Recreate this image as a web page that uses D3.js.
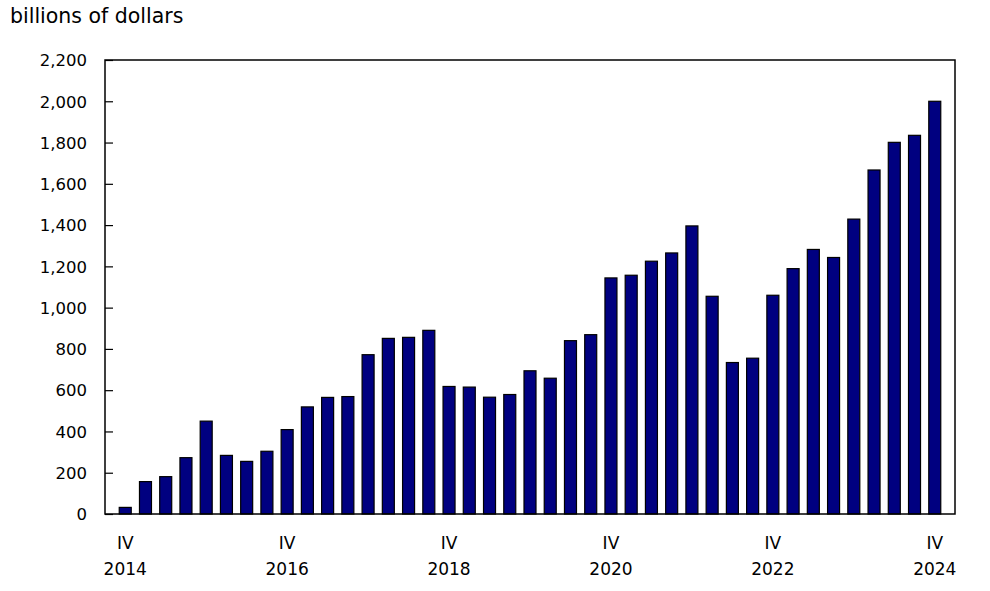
<!DOCTYPE html>
<html>
<head>
<meta charset="utf-8">
<script src="https://cdn.jsdelivr.net/npm/d3@7"></script>
<style>
  body { margin: 0; background: #fff; }
  text { font-family: "DejaVu Sans", Verdana, sans-serif; fill: #000; }
</style>
</head>
<body>
<svg id="chart"></svg>
<script>
const W = 990, H = 591;

// quarters from 2014 Q4 to 2024 Q4
const quarters = ["2014Q4",
  "2015Q1", "2015Q2", "2015Q3", "2015Q4",
  "2016Q1", "2016Q2", "2016Q3", "2016Q4",
  "2017Q1", "2017Q2", "2017Q3", "2017Q4",
  "2018Q1", "2018Q2", "2018Q3", "2018Q4",
  "2019Q1", "2019Q2", "2019Q3", "2019Q4",
  "2020Q1", "2020Q2", "2020Q3", "2020Q4",
  "2021Q1", "2021Q2", "2021Q3", "2021Q4",
  "2022Q1", "2022Q2", "2022Q3", "2022Q4",
  "2023Q1", "2023Q2", "2023Q3", "2023Q4",
  "2024Q1", "2024Q2", "2024Q3", "2024Q4"];

// billions of dollars
const values = [32,
  157, 181, 273, 450,
  284, 255, 304, 409,
  519, 565, 569, 772,
  851, 856, 890, 618,
  615, 566, 579, 694,
  658, 840, 869, 1144,
  1157, 1225, 1265, 1396,
  1055, 734, 755, 1060,
  1189, 1282, 1243, 1429,
  1667, 1801, 1835, 2000];

const labelQuarters = ["2014Q4", "2016Q4", "2018Q4", "2020Q4", "2022Q4", "2024Q4"];
const yTicks = [0, 200, 400, 600, 800, 1000, 1200, 1400, 1600, 1800, 2000, 2200];

const margin = { top: 60, right: 35, bottom: 77, left: 105 };
const width = W - margin.left - margin.right,
  height = H - margin.top - margin.bottom;

const svg = d3.select("#chart").attr("width", W).attr("height", H);

const x = d3.scalePoint().domain(quarters).range([0, width]).padding(1);
const y = d3.scaleLinear().domain([0, 2200]).range([height, 0]);

const g = svg.append("g").attr("transform", `translate(${margin.left},${margin.top})`);

// y axis title
svg.append("text")
  .attr("x", 10).attr("y", 23)
  .style("font-size", "20.5px")
  .text("billions of dollars");

// y ticks (inward) and labels
const yAxis = d3.axisRight(y).tickValues(yTicks).tickSize(8).tickFormat("");
g.append("g").call(yAxis)
  .call(s => s.select(".domain").remove())
  .selectAll("line").attr("stroke", "#000").attr("stroke-width", 1.2);

g.append("g").selectAll("text")
  .data(yTicks)
  .join("text")
  .attr("x", -18)
  .attr("y", d => y(d))
  .attr("dy", "0.38em")
  .attr("text-anchor", "end")
  .style("font-size", "16.5px")
  .text(d => d3.format(",")(d));

// bars
const barW = 12;
g.append("g").selectAll("rect")
  .data(values)
  .join("rect")
  .attr("x", (d, i) => x(quarters[i]) - barW / 2)
  .attr("y", d => y(d))
  .attr("width", barW)
  .attr("height", d => y(0) - y(d))
  .attr("fill", "#000080")
  .attr("stroke", "#000")
  .attr("stroke-width", 1.2);

// frame
g.append("rect")
  .attr("x", 0).attr("y", 0)
  .attr("width", width).attr("height", height)
  .attr("fill", "none")
  .attr("stroke", "#000")
  .attr("stroke-width", 1.5);

// x labels
const xl = g.append("g").selectAll("g")
  .data(labelQuarters)
  .join("g")
  .attr("transform", d => `translate(${x(d)},${height})`);
xl.append("text")
  .attr("y", 35)
  .attr("text-anchor", "middle")
  .style("font-size", "17px")
  .text("IV");
xl.append("text")
  .attr("y", 61)
  .attr("text-anchor", "middle")
  .style("font-size", "17px")
  .text(d => d.slice(0, 4));
</script>
</body>
</html>
